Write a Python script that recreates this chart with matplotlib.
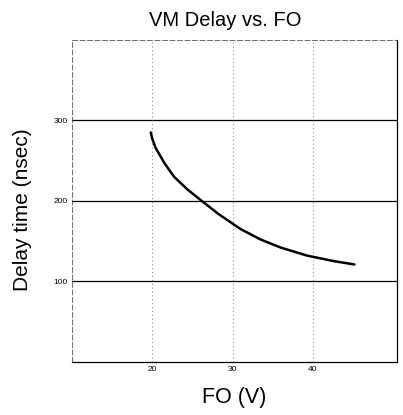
import matplotlib
matplotlib.use("Agg")
import matplotlib.pyplot as plt

# values
fo_volts = [19.8, 20.0, 20.4, 21.5, 22.7, 24.4, 25.9, 28.2, 31.0, 33.5,
            36.0, 39.3, 42.7, 45.2]
delay_ns = [285, 277, 266, 247, 230, 214, 202, 184, 165, 152,
            142, 132, 125, 121]

x_ticks = [20, 30, 40]
y_ticks = [100, 200, 300]

plt.rcParams['font.family'] = ['Liberation Sans', 'DejaVu Sans']

fig = plt.figure(figsize=(4.03, 4.15), dpi=100)
ax = fig.add_axes([0.179, 0.128, 0.806, 0.776])

# horizontal grid lines are solid, vertical ones faint and dotted
for yv in y_ticks:
    ax.axhline(yv, color='black', lw=0.9, zorder=1)
for xv in x_ticks:
    ax.axvline(xv, color='#777777', lw=0.7, ls=(0, (1, 3)), zorder=1)

ax.plot(fo_volts, delay_ns, color='black', lw=1.8, zorder=3,
        solid_joinstyle='round', solid_capstyle='round')

ax.set_xlim(10, 50.5)
ax.set_ylim(0, 400)
ax.set_xticks(x_ticks)
ax.set_xticklabels([str(v) for v in x_ticks], fontsize=6)
ax.set_yticks(y_ticks)
ax.set_yticklabels([str(v) for v in y_ticks], fontsize=6)
ax.tick_params(length=0, pad=3)

for side in ['top', 'left']:
    ax.spines[side].set_linestyle((0, (6, 3)))
    ax.spines[side].set_linewidth(0.6)
    ax.spines[side].set_color('#555555')
ax.spines['right'].set_linewidth(0.9)
ax.spines['bottom'].set_linewidth(0.9)

ax.set_title('VM Delay vs. FO', fontsize=14.5, pad=10, x=0.47)
ax.set_xlabel('FO (V)', fontsize=15.5, labelpad=10)
ax.set_ylabel('Delay time (nsec)', fontsize=15)
ax.yaxis.set_label_coords(-0.125, 0.472)

fig.savefig('out.png', dpi=100)
